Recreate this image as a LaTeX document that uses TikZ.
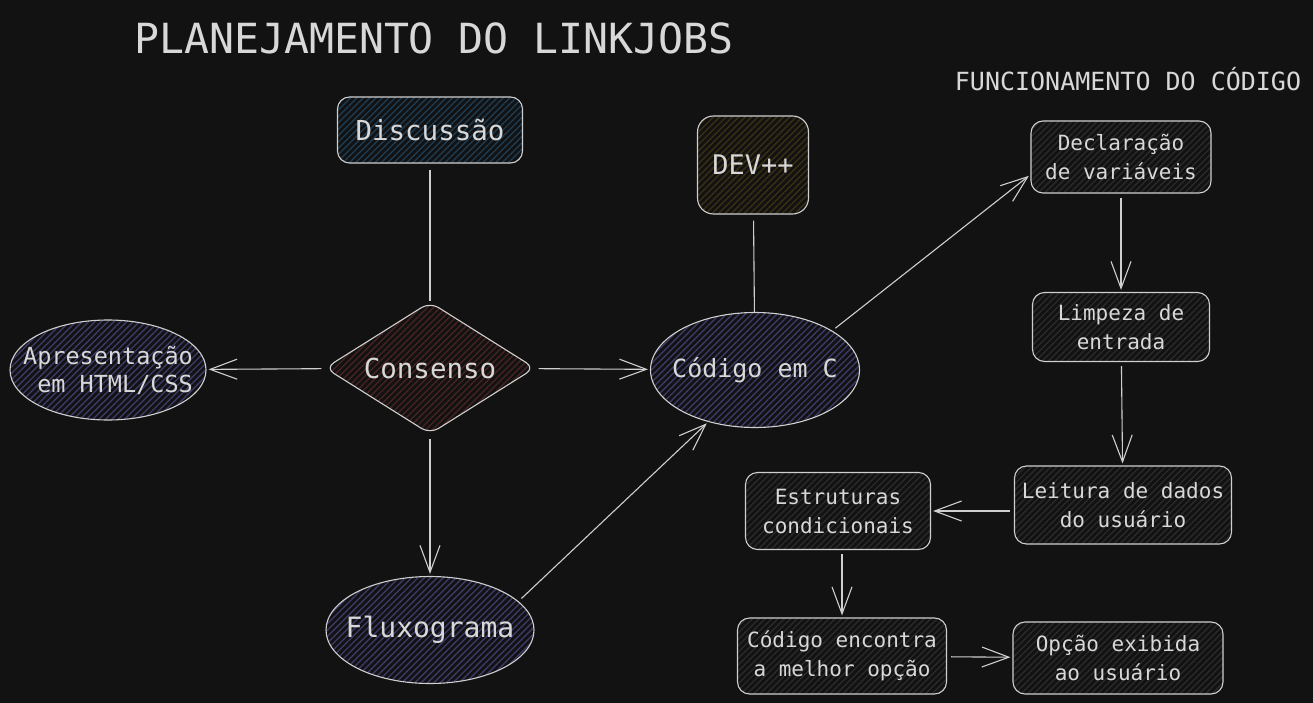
\documentclass[tikz,border=0pt]{standalone}
\usepackage{fontspec}
\setmonofont{DejaVu Sans Mono}
\usetikzlibrary{shapes.geometric,arrows.meta,patterns.meta}
\definecolor{bg}{HTML}{121212}
\definecolor{ink}{HTML}{CFCFCF}
\definecolor{txt}{HTML}{D8D8D8}
\definecolor{hteal}{HTML}{1D3B52}
\definecolor{hbrown}{HTML}{3A2F12}
\definecolor{hred}{HTML}{472222}
\definecolor{hpurple}{HTML}{3C3968}
\definecolor{hgrey}{HTML}{2A2A2A}
\tikzset{
  hatch/.style={preaction={fill=bg},
    pattern={Lines[angle=45,distance=4.5pt,line width=1.4pt]}, pattern color=#1},
  shape base/.style={draw=ink, line width=1.1pt, inner sep=0pt, align=center, text=txt},
  roundbox/.style={shape base, rectangle, rounded corners=12pt},
  oval/.style={shape base, ellipse, hatch=hpurple},
  stepnode/.style={roundbox, hatch=hgrey, font=\ttfamily\fontsize{21}{29}\selectfont},
  arr/.style={-{Straight Barb[length=27pt,width=20pt]}, draw=ink, line width=1.1pt, shorten >=2pt, shorten <=4pt},
  link/.style={draw=ink, line width=1.1pt, shorten <=6pt}
}
\begin{document}
\begin{tikzpicture}[x=1pt,y=-1pt]
  \fill[bg] (0,0) rectangle (1313,703);
  \useasboundingbox (0,0) rectangle (1313,703);
  % titles
  \node[text=txt, font=\ttfamily\fontsize{41.5}{48}\selectfont] (title) at (434,38) {PLANEJAMENTO DO LINKJOBS};
  \node[text=txt, font=\ttfamily\fontsize{25}{30}\selectfont] (subtitle) at (1128,79) {FUNCIONAMENTO DO CÓDIGO};
  % left part
  \node[roundbox, hatch=hteal, minimum width=185pt, minimum height=66pt,
    font=\ttfamily\fontsize{27.5}{32}\selectfont] (disc) at (430,130) {Discussão};
  \node[roundbox, hatch=hbrown, rounded corners=16pt, minimum width=111pt, minimum height=98pt,
    font=\ttfamily\fontsize{27}{32}\selectfont] (dev) at (753,165) {DEV++};
  \node[shape base, diamond, aspect=1.58, rounded corners=10pt, hatch=hred, minimum width=210pt, minimum height=132pt,
    font=\ttfamily\fontsize{27.5}{32}\selectfont] (cons) at (430,368) {Consenso};
  \node[oval, inner xsep=-16pt, minimum width=196pt, minimum height=100pt,
    font=\ttfamily\fontsize{23.5}{28}\selectfont] (apres) at (108,370) {Apresentação\\\hphantom{x}em HTML/CSS};
  \node[oval, inner xsep=-9pt, minimum width=209pt, minimum height=115pt,
    font=\ttfamily\fontsize{25}{30}\selectfont] (codc) at (755,370) {Código em C};
  \node[oval, inner xsep=-11pt, minimum width=208pt, minimum height=107pt,
    font=\ttfamily\fontsize{28}{32}\selectfont] (flux) at (430,630) {Fluxograma};
  % right part
  \node[stepnode, minimum width=180pt, minimum height=72pt] (decl) at (1121,157) {Declaração\\de variáveis};
  \node[stepnode, minimum width=177pt, minimum height=69pt] (limp) at (1121,327) {Limpeza de\\entrada};
  \node[stepnode, minimum width=217pt, minimum height=78pt] (leit) at (1123,505) {Leitura de dados\\do usuário};
  \node[stepnode, minimum width=185pt, minimum height=77pt] (estr) at (838,511) {Estruturas\\condicionais};
  \node[stepnode, minimum width=209pt, minimum height=76pt] (melh) at (842,656) {Código encontra\\a melhor opção};
  \node[stepnode, minimum width=210pt, minimum height=72pt] (opc) at (1118,658) {Opção exibida\\ao usuário};
  % connectors
  \draw[link] (disc) to (cons);
  \draw[link] (dev) to (codc);
  \begin{scope}[arr]
    \draw (cons) to (apres);
    \draw (cons) to (codc);
    \draw (cons) to (flux);
    \draw (flux.18) to (codc.228);
    \draw (codc.27) to (decl.191);
    \draw (decl) to (limp);
    \draw (limp) to (leit);
    \draw (leit.west |- estr.east) to (estr.east);
    \draw (melh) to (opc);
    \draw (estr.south -| melh.north) to (melh.north);
  \end{scope}
\end{tikzpicture}
\end{document}
